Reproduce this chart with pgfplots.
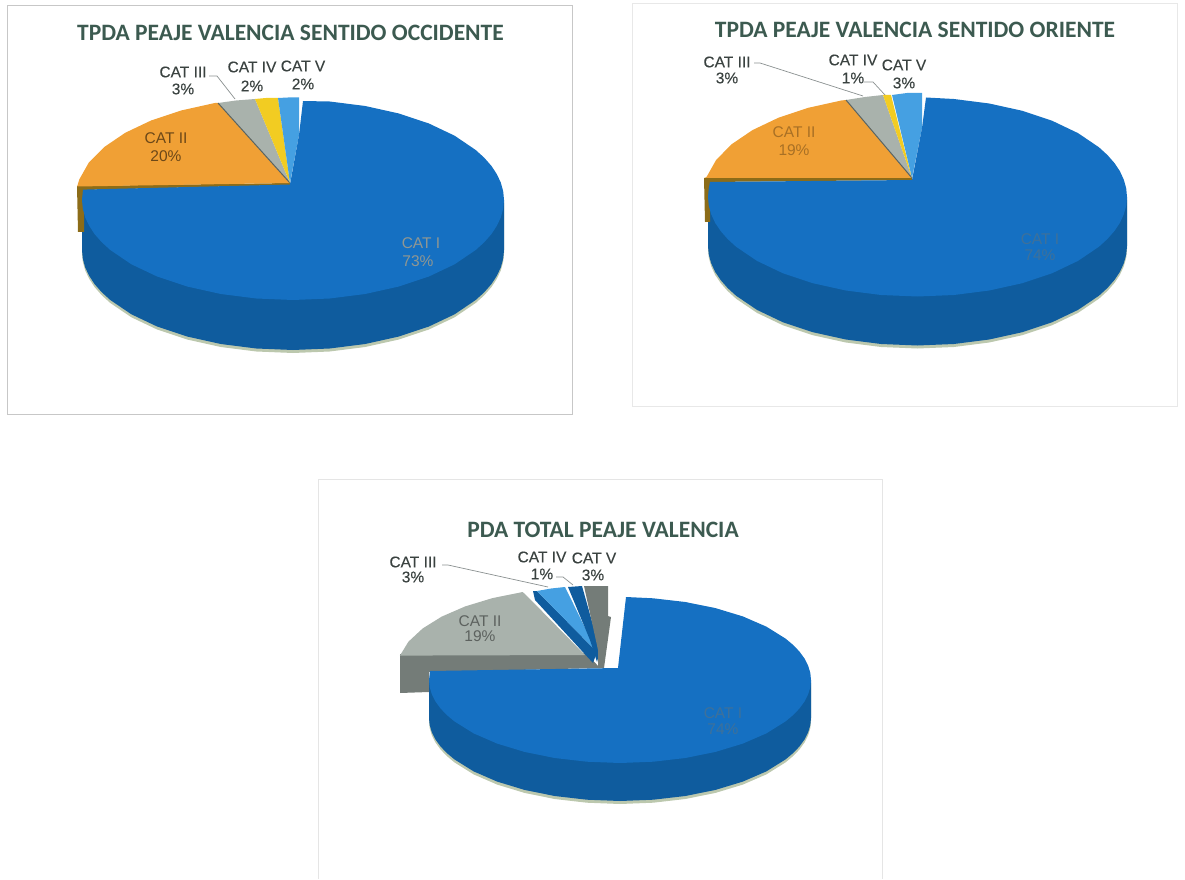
\documentclass[border=0pt]{standalone}
\usepackage{pgfplots}
\pgfplotsset{compat=1.18}
\usepackage{pgfplotstable}
\usepackage{fontspec}
\setmainfont{Liberation Sans}
\newfontfamily\titlefont{Carlito}
\newfontfamily\lblfont[FakeBold=0.25]{Liberation Sans}

\definecolor{pblue}{HTML}{1570C2}
\definecolor{pside}{HTML}{0F5C9E}
\definecolor{porange}{HTML}{F0A035}
\definecolor{pbrown}{HTML}{8C6C18}
\definecolor{pgray}{HTML}{A9B2AC}
\definecolor{pgrayd}{HTML}{5A6462}
\definecolor{pgrayc}{HTML}{747C78}
\definecolor{pyellow}{HTML}{F2CC22}
\definecolor{plight}{HTML}{45A0E2}
\definecolor{pshadow}{HTML}{BCC8AE}
\definecolor{ttl}{HTML}{3C5A50}
\definecolor{lbl}{HTML}{3A4240}
\definecolor{ldr}{HTML}{8A9090}

% side walls of the three pies, pixel positions
\pgfplotstableread{
x y
504 200
504 250
503.2 258.7
500.8 267.4
496.8 275.9
491.3 284.2
484.2 292.3
475.7 300
454.6 314.3
428.7 326.6
398.5 336.6
365.2 344
329.7 348.5
293 350
256.3 348.5
220.8 344
187.5 336.6
157.3 326.6
131.4 314.3
110.3 300
101.8 292.3
94.7 284.2
89.2 275.9
85.2 267.4
82.8 258.7
82 250
82 200
}\sideA
\pgfplotstableread{
x y
1127 197
1127 246
1126.2 254.7
1123.8 263.3
1119.9 271.8
1114.4 280
1107.4 288
1098.9 295.75
1078 309.9
1052.2 322.2
1022.3 332.2
989.2 339.5
953.9 344
917.5 345.5
881.1 344
845.8 339.5
812.8 332.2
782.8 322.2
757 309.9
736.1 295.75
727.6 288
720.6 280
715.1 271.8
711.2 263.3
708.8 254.7
708 246
708 197
}\sideB
\pgfplotstableread{
x y
811 680
811 718
810.3 725.2
808.1 732.4
804.5 739.5
799.5 746.4
793.1 753.1
785.4 759.5
766.3 771.4
742.8 781.6
715.5 789.9
685.3 796
653.2 799.7
620 801
586.8 799.7
554.7 796
524.5 789.9
497.2 781.6
473.7 771.4
454.6 759.5
446.9 753.1
440.5 746.4
435.5 739.5
431.9 732.4
429.7 725.2
429 718
429 680
}\sideC

\newcommand{\lab}[3]{\node[font=\lblfont\fontsize{15.5}{15.5}\selectfont,text=lbl,inner sep=0pt] at (axis cs:#1,#2) {#3};}
% labels that sit on a slice, faded in the scan
\newcommand{\inlab}[4]{\node[font=\fontsize{15.5}{15.5}\selectfont,text=#1,inner sep=0pt] at (axis cs:#2,#3) {#4};}
\newcommand{\ttlnode}[3]{\node[font=\titlefont\bfseries\fontsize{23.5}{23.5}\selectfont,text=ttl,inner sep=0pt] at (axis cs:#1,#2) {#3};}

\begin{document}
\begin{tikzpicture}
\begin{axis}[
  width=1185pt, height=879pt, scale only axis,
  xmin=0, xmax=1185, ymin=0, ymax=879,
  y dir=reverse, hide axis, clip=false,
]
% keeps the page as large as the whole reference
\addplot[draw=none] coordinates {(0,0) (1185,879)};
% frames
\addplot[draw=black!22, line width=1pt] coordinates {(7,6) (572,6) (572,414) (7,414) (7,6)};
\addplot[draw=black!9, line width=1pt] coordinates {(632,4) (1177,4) (1177,406) (632,406) (632,4)};
\addplot[draw=black!10, line width=1pt] coordinates {(318,879) (318,479) (882,479) (882,879)};

% ---- sentido occidente
\addplot[fill=pshadow, draw=none, yshift=-3pt] table {\sideA};
\addplot[fill=pside, draw=none] table {\sideA};
\addplot[fill=pbrown, draw=none] coordinates {(77,186) (290,183) (290,185) (84,190) (84,232) (78,232)};
\addplot[fill=porange, draw=none] coordinates {(77.2,186.5) (79.2,179.6) (88.7,162.8) (104.3,147) (125.4,132.7) (151.3,120.4) (181.5,110.4) (214.8,103) (218,103) (290,183)};
\addplot[fill=pgray, draw=none] coordinates {(218,103) (236,100.5) (255,99) (290,183)};
\addplot[pgrayd, line width=1pt] coordinates {(218,103) (290,183)};
\addplot[fill=pyellow, draw=none] coordinates {(255,99) (266,98) (278,98) (290,183)};
\addplot[fill=plight, draw=none] coordinates {(278,98) (288,97.5) (299,97.5) (299,135) (290,183)};
\addplot[fill=pblue, draw=none] coordinates {(303,101) (329.7,101.5) (365.2,106) (398.5,113.4) (428.7,123.4) (454.6,135.7) (475.7,150) (484.2,157.7) (491.3,165.8) (496.8,174.1) (500.8,182.6) (503.2,191.3) (504,200) (503.2,208.7) (500.8,217.4) (496.8,225.9) (491.3,234.2) (484.2,242.3) (475.7,250) (454.6,264.3) (428.7,276.6) (398.5,286.6) (365.2,294) (329.7,298.5) (293,300) (256.3,298.5) (220.8,294) (187.5,286.6) (157.3,276.6) (131.4,264.3) (110.3,250) (101.8,242.3) (94.7,234.2) (89.2,225.9) (85.2,217.4) (82.8,208.7) (82,200) (83,189.6) (290,184.5) (299,135)};
\addplot[ldr, line width=0.7pt] coordinates {(209,76) (217,76) (235,99)};
\ttlnode{290.5}{33}{TPDA PEAJE VALENCIA SENTIDO OCCIDENTE}
\lab{183}{72}{CAT III}
\lab{183}{89}{3\%}
\lab{252}{67}{CAT IV}
\lab{252}{86}{2\%}
\lab{303}{66}{CAT V}
\lab{303}{84}{2\%}
\inlab{black!55!porange}{166}{138}{CAT II}
\inlab{black!55!porange}{166}{156}{20\%}
\inlab{black!15!pgray}{421}{243}{CAT I}
\inlab{black!15!pgray}{418}{261}{73\%}

% ---- sentido oriente
\addplot[fill=pshadow, draw=none, yshift=-3pt] table {\sideB};
\addplot[fill=pside, draw=none] table {\sideB};
\addplot[fill=pbrown, draw=none] coordinates {(704,178) (912,178) (912,180) (710,182) (710,222) (705,222)};
\addplot[fill=porange, draw=none] coordinates {(705,178) (706.7,176.7) (716.1,160) (731.6,144.25) (752.5,130.1) (778.3,117.8) (808.25,107.8) (841.3,100.5) (846,100) (912,178)};
\addplot[fill=pgray, draw=none] coordinates {(846,100) (865,97) (883,95) (912,178)};
\addplot[pgrayd, line width=1pt] coordinates {(846,100) (912,178)};
\addplot[fill=pyellow, draw=none] coordinates {(883,95) (891,95) (912,178)};
\addplot[fill=plight, draw=none] coordinates {(892,95) (907,93) (922,93) (922,128) (912,178)};
\addplot[fill=pblue, draw=none] coordinates {(926,97.5) (953.9,99) (989.2,103.5) (1022.3,110.8) (1052.2,120.8) (1078,133.1) (1098.9,147.25) (1107.4,155) (1114.4,163) (1119.9,171.2) (1123.8,179.7) (1126.2,188.3) (1127,197) (1126.2,205.7) (1123.8,214.3) (1119.9,222.8) (1114.4,231) (1107.4,239) (1098.9,246.75) (1078,260.9) (1052.2,273.2) (1022.3,283.2) (989.2,290.5) (953.9,295) (917.5,296.5) (881.1,295) (845.8,290.5) (812.8,283.2) (782.8,273.2) (757,260.9) (736.1,246.75) (727.6,239) (720.6,231) (715.1,222.8) (711.2,214.3) (708.8,205.7) (708,197) (708.8,188) (710,182) (912,180) (922,128)};
\addplot[ldr, line width=0.7pt] coordinates {(754,63) (760,63) (863,96)};
\addplot[ldr, line width=0.7pt] coordinates {(864,82) (873,82) (885,95)};
\ttlnode{915}{30}{TPDA PEAJE VALENCIA SENTIDO ORIENTE}
\lab{727}{62}{CAT III}
\lab{727}{78}{3\%}
\lab{853}{60}{CAT IV}
\lab{853}{78}{1\%}
\lab{904}{65}{CAT V}
\lab{904}{83}{3\%}
\inlab{black!30!porange}{794}{132}{CAT II}
\inlab{black!30!porange}{794}{150}{19\%}
\inlab{black!25!pblue!70!pgray}{1040}{239}{CAT I}
\inlab{black!25!pblue!70!pgray}{1040}{255}{74\%}

% ---- total
\addplot[fill=pshadow, draw=none, yshift=-3pt] table {\sideC};
\addplot[fill=pgrayc, draw=none] coordinates {(400,654) (586,653) (600,668) (429,672) (429,692) (400,693)};
\addplot[fill=pgray, draw=none] coordinates {(399.9,655.6) (408.5,641.6) (422.6,628.5) (441.7,616.6) (465.2,606.4) (492.5,598.1) (522.7,592) (528,597) (585,655)};
\addplot[fill=pside, draw=none] coordinates {(533,591) (537,591) (597,652) (593,663) (535,600)};
\addplot[fill=plight, draw=none] coordinates {(537,591) (551,588.5) (565,587) (597,652)};
\addplot[fill=pside, draw=none] coordinates {(568,587) (582,586) (600,650) (597,662) (590,640)};
\addplot[fill=pgrayc, draw=none] coordinates {(584,586) (608,586) (608,616) (611,617) (604,668) (598,668) (598,650)};
\addplot[fill=pside, draw=none] table {\sideC};
\addplot[fill=pblue, draw=none] coordinates {(626,597) (653.2,598.3) (685.3,602) (715.5,608.1) (742.8,616.4) (766.3,626.6) (785.4,638.5) (793.1,644.9) (799.5,651.6) (804.5,658.5) (808.1,665.6) (810.3,672.8) (811,680) (810.3,687.2) (808.1,694.4) (804.5,701.5) (799.5,708.4) (793.1,715.1) (785.4,721.5) (766.3,733.4) (742.8,743.6) (715.5,751.9) (685.3,758) (653.2,761.7) (620,763) (586.8,761.7) (554.7,758) (524.5,751.9) (497.2,743.6) (473.7,733.4) (454.6,721.5) (446.9,715.1) (440.5,708.4) (435.5,701.5) (431.9,694.4) (429.7,687.2) (429,680) (430,671) (618,668)};
\addplot[ldr, line width=0.7pt] coordinates {(442,565) (448,565) (548,587)};
\addplot[ldr, line width=0.7pt] coordinates {(556,577) (563,577) (573,585)};
\ttlnode{603}{530}{PDA TOTAL PEAJE VALENCIA}
\lab{413}{562}{CAT III}
\lab{413}{577}{3\%}
\lab{542}{557}{CAT IV}
\lab{542}{574}{1\%}
\lab{594}{558}{CAT V}
\lab{593}{575}{3\%}
\inlab{black!45!pgray}{480}{621}{CAT II}
\inlab{black!45!pgray}{480}{636}{19\%}
\inlab{black!25!pblue!70!pgray}{723}{713}{CAT I}
\inlab{black!25!pblue!70!pgray}{723}{729}{74\%}
\end{axis}
\end{tikzpicture}
\end{document}
